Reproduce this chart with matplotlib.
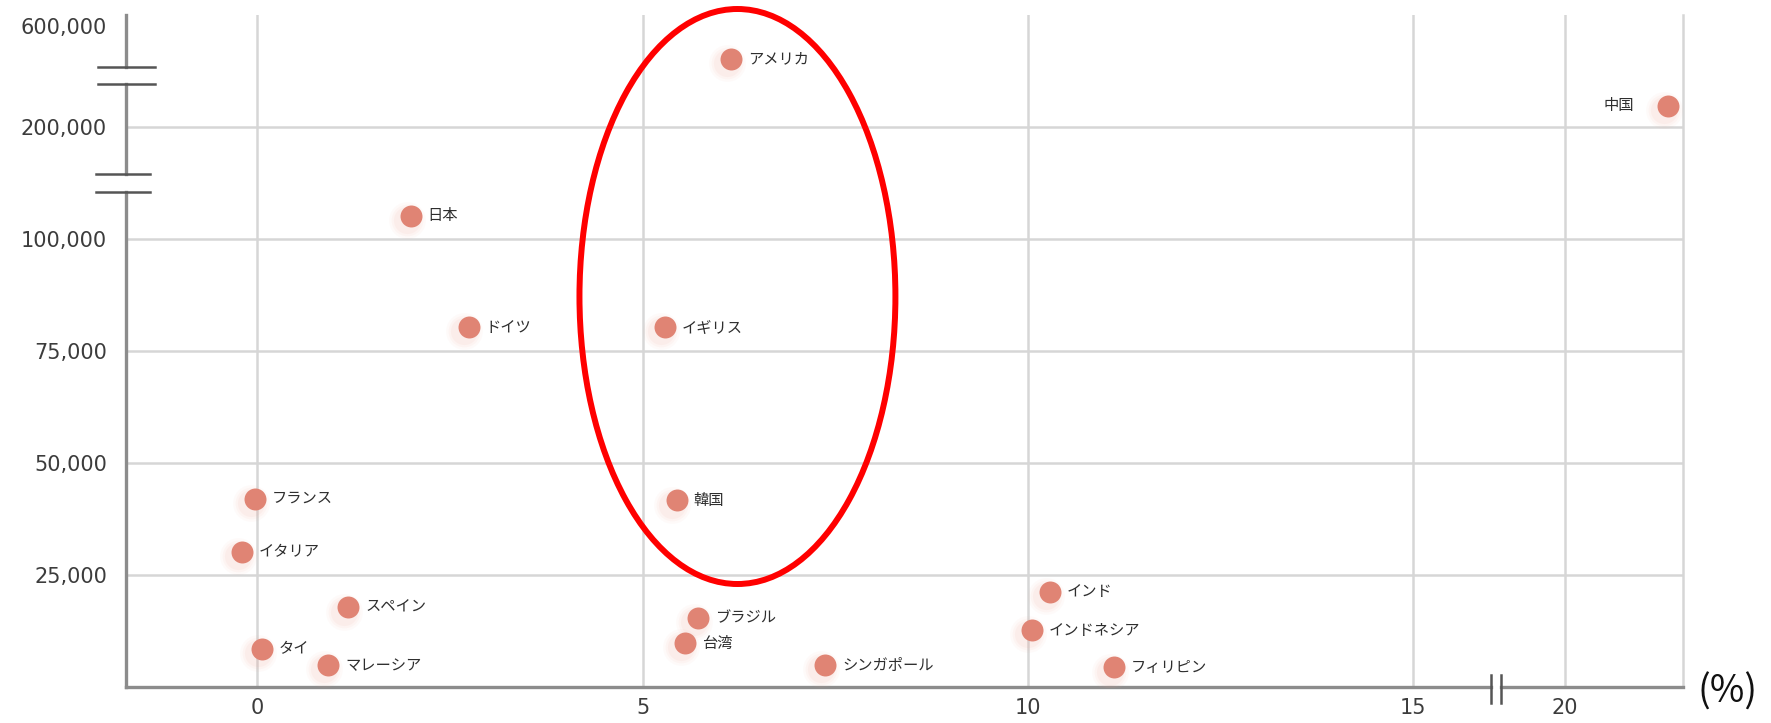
import numpy as np
import matplotlib
matplotlib.use("Agg")
import matplotlib.pyplot as plt
from matplotlib.patches import Ellipse
from matplotlib.ticker import FuncFormatter
from matplotlib.transforms import ScaledTranslation, blended_transform_factory

JP_FONT = ['Noto Sans CJK JP', 'DejaVu Sans']

# growth rate (%) and size per country
countries = ['アメリカ', '中国', '日本', 'ドイツ', 'イギリス', 'フランス', '韓国', 'イタリア',
             'インド', 'スペイン', 'ブラジル', 'インドネシア', '台湾', 'タイ', 'マレーシア',
             'シンガポール', 'フィリピン']
growth = [6.15, 23.4, 1.99, 2.74, 5.29, -0.03, 5.44, -0.2,
          10.29, 1.18, 5.72, 10.05, 5.55, 0.06, 0.92, 7.37, 11.12]
amount = [469000, 284000, 120800, 80300, 80300, 42000, 41600, 30100,
          21200, 17700, 15400, 12600, 9700, 8400, 4800, 4800, 4300]

x_ticks = [0, 5, 10, 15, 20]
y_ticks = [25000, 50000, 75000, 100000, 200000, 600000]


# broken axes: x is squeezed past 15, y is squeezed above 100,000 and 200,000
def x_fwd(x):
    x = np.asarray(x, dtype=float)
    return np.where(x <= 15, x, 15 + (x - 15) * 0.394)


def x_inv(t):
    t = np.asarray(t, dtype=float)
    return np.where(t <= 15, t, 15 + (t - 15) / 0.394)


def y_fwd(v):
    v = np.asarray(v, dtype=float)
    return np.where(v <= 100000, v / 25000,
                    np.where(v <= 200000, 4 + (v - 100000) / 100000,
                             5 + (v - 200000) / 400000 * 0.9))


def y_inv(t):
    t = np.asarray(t, dtype=float)
    return np.where(t <= 4, t * 25000,
                    np.where(t <= 5, 100000 + (t - 4) * 100000,
                             200000 + (t - 5) / 0.9 * 400000))


fig = plt.figure(figsize=(17.71, 7.23), dpi=100)
ax = fig.add_axes([0.0714, 0.0502, 0.8789, 0.9291])
ax.set_xscale('function', functions=(x_fwd, x_inv))
ax.set_yscale('function', functions=(y_fwd, y_inv))
ax.set_xlim(-1.70, 23.88)
ax.set_ylim(0, 644444)

# grid
grid_col = '#d6d6d6'
ax.set_xticks(x_ticks)
ax.set_yticks(y_ticks)
ax.grid(axis='x', color=grid_col, lw=1.8, zorder=0)
for v in y_ticks[:-1]:
    ax.axhline(v, color=grid_col, lw=1.8, zorder=0)

for side in ['top', 'left', 'bottom']:
    ax.spines[side].set_visible(False)
ax.spines['right'].set_color(grid_col)
ax.spines['right'].set_linewidth(1.8)

ax.tick_params(axis='both', length=0, labelsize=15, labelcolor='#3c3c3c')
ax.tick_params(axis='x', pad=8)
ax.tick_params(axis='y', pad=14)
ax.yaxis.set_major_formatter(FuncFormatter(lambda v, p: '{:,.0f}'.format(v)))

# axis lines drawn in pieces so the break marks sit in the gaps
axis_col = '#8c8c8c'
y_breaks = [(142000, 158000), (371000, 439000)]
x_break = (17.57, 17.90)
ytrans = blended_transform_factory(ax.transAxes, ax.transData)
xtrans = blended_transform_factory(ax.transData, ax.transAxes)

ylo = 0
for b0, b1 in y_breaks:
    ax.plot([0, 0], [ylo, b0], color=axis_col, lw=2.4, transform=ytrans, clip_on=False, zorder=3)
    ylo = b1
ax.plot([0, 0], [ylo, 644444], color=axis_col, lw=2.4, transform=ytrans, clip_on=False, zorder=3)
for (b0, b1), (l, r) in zip(y_breaks, [(-0.0193, 0.0154), (-0.018, 0.0183)]):
    for b in (b0, b1):
        ax.plot([l, r], [b, b], color='#555555', lw=1.8, transform=ytrans, clip_on=False, zorder=4)

ax.plot([-1.70, x_break[0]], [0, 0], color=axis_col, lw=2.4, transform=xtrans, clip_on=False, zorder=3)
ax.plot([x_break[1], 23.88], [0, 0], color=axis_col, lw=2.4, transform=xtrans, clip_on=False, zorder=3)
for b in x_break:
    ax.plot([b, b], [-0.0238, 0.0179], color='#555555', lw=1.8, transform=xtrans, clip_on=False, zorder=4)

# soft glow under the dots, shifted down-left
glow = ax.transData + ScaledTranslation(-3 / 72, -3 / 72, fig.dpi_scale_trans)
for s, a in [(700, 0.05), (520, 0.07), (380, 0.09)]:
    ax.scatter(growth, amount, s=s, color='#f0a89a', alpha=a, lw=0, transform=glow, zorder=4)
ax.scatter(growth, amount, s=250, color='#e08474', lw=0, zorder=5)

for name, x, y in zip(countries, growth, amount):
    if name == '中国':
        ax.annotate(name, (x, y), xytext=(-25, 0), textcoords='offset points',
                    ha='right', va='center', fontsize=11, color='#2e2e2e', family=JP_FONT)
    else:
        ax.annotate(name, (x, y), xytext=(12, 0), textcoords='offset points',
                    ha='left', va='center', fontsize=11, color='#2e2e2e', family=JP_FONT)

# highlight ring
ring = Ellipse((0.4164, 0.5899), 0.1784, 0.7953, transform=fig.transFigure,
               fill=False, edgecolor='#ff0000', lw=4.3, zorder=10)
fig.add_artist(ring)

fig.text(0.9757, 0.0425, '(%)', ha='center', va='center', fontsize=27,
         color='#111111', family=JP_FONT)

fig.savefig('out.png', dpi=100)
